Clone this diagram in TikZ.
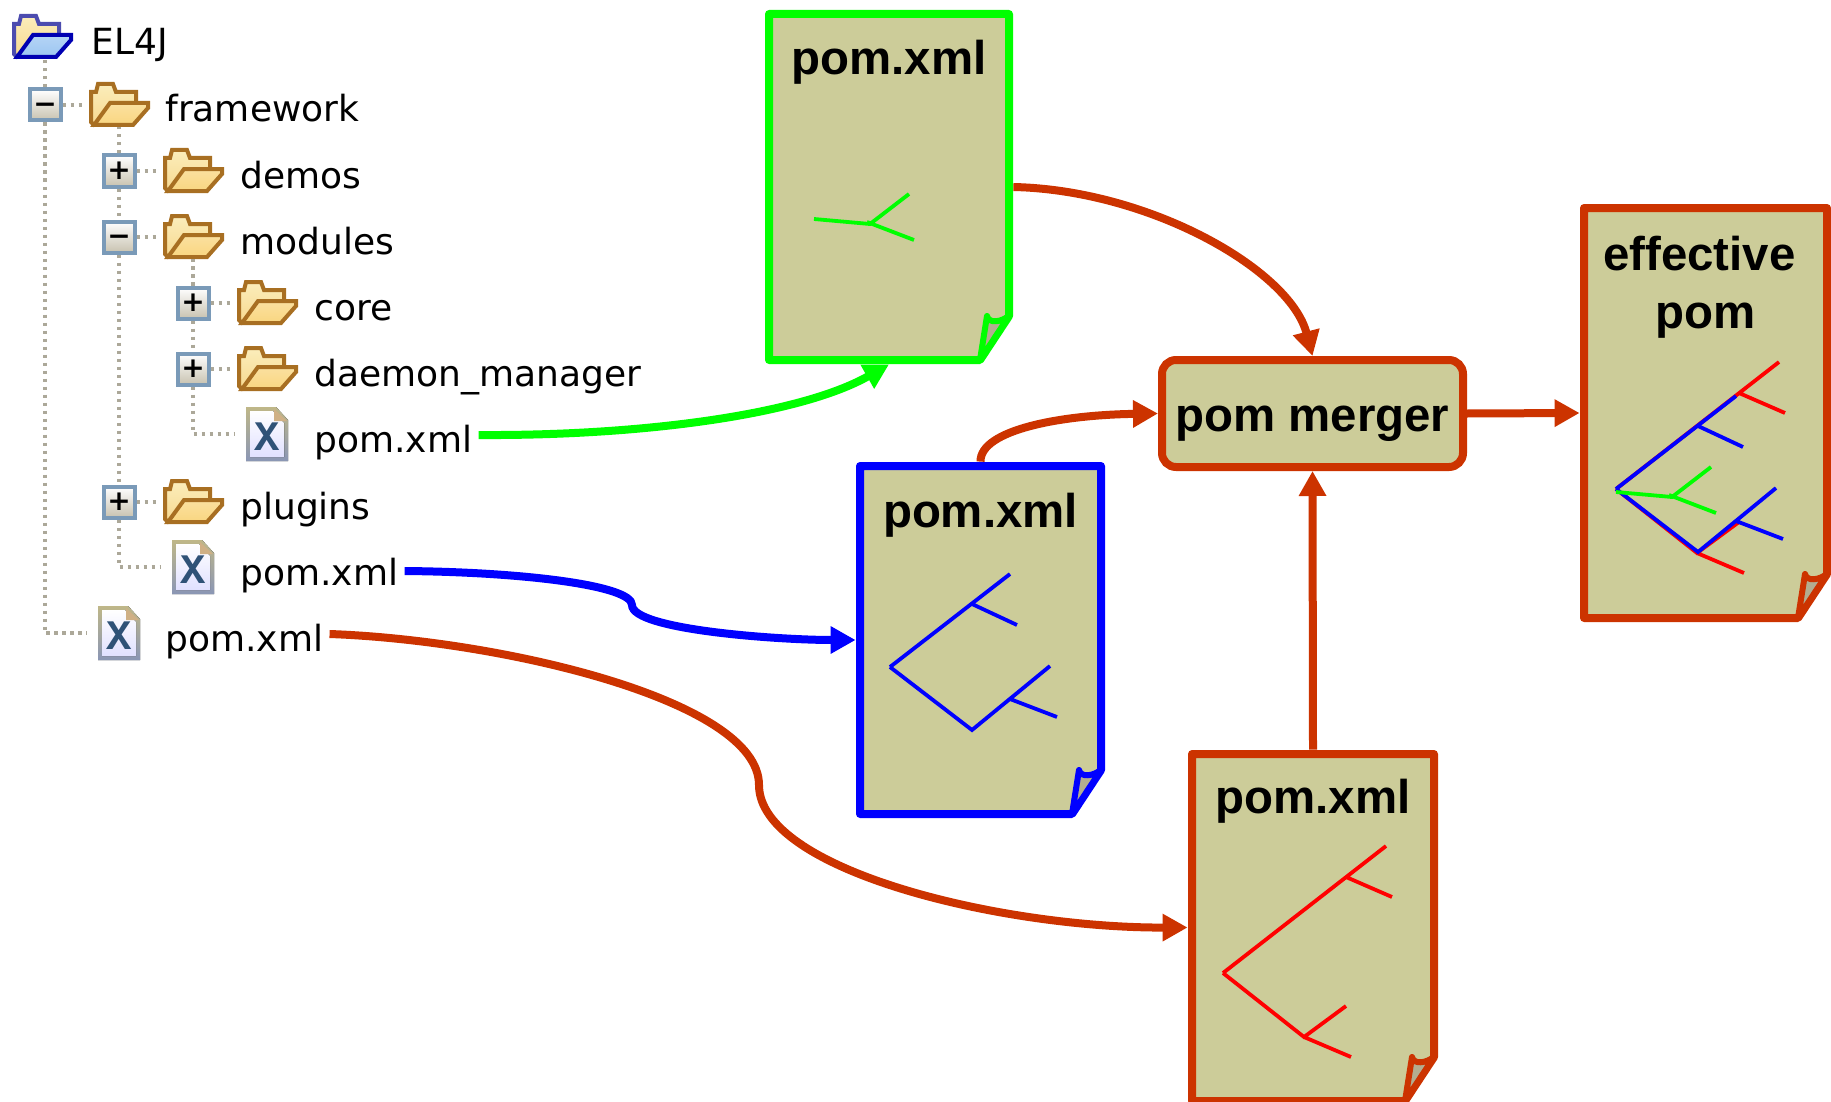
\documentclass[tikz,border=0pt]{standalone}
\usepackage{fontspec}
\setmainfont{Liberation Sans}
\newfontfamily\treefont{DejaVu Sans}
\newfontfamily\xfont{Liberation Mono}
\usetikzlibrary{arrows.meta,positioning}
\definecolor{pagefill}{HTML}{CCCC99}
\definecolor{foldfill}{HTML}{B3AD90}
\definecolor{rust}{HTML}{CC3300}
\definecolor{dotline}{HTML}{ACA899}
\definecolor{boxline}{HTML}{7A9AB8}
\definecolor{boxshade}{HTML}{C8C2B0}
\definecolor{tanline}{HTML}{A86F22}
\definecolor{xblue}{HTML}{2F5277}
\definecolor{backlight}{HTML}{FBEDBB}
\definecolor{backdark}{HTML}{F7D98F}
\definecolor{flapyellow}{HTML}{F9D680}
\definecolor{flapblue}{HTML}{9CC6F2}
\definecolor{fileline}{HTML}{BFB788}
\definecolor{filelow}{HTML}{8A96B5}

\newcommand{\docpage}[6]{
  \node (#1) at ({#2+#4/2},{#3+#5/2}) [minimum width={(#4+8)*0.5pt},minimum height={(#5+8)*0.5pt},inner sep=0pt] {};
  \begin{scope}[shift={(#2,#3)},line width=4pt,line join=round]
    \draw [#6,fill=pagefill] (0,0) -- (#4,0) -- (#4,#5-44) -- (#4-29,#5) -- (0,#5) -- cycle;
    \draw [#6,fill=foldfill,line width=3pt] (#4-29,#5) -- (#4-22,#5-44) .. controls (#4-20,#5-36) and (#4-8,#5-38) .. (#4,#5-44) -- cycle;
  \end{scope}
}
\newcommand{\greentree}[1]{
  \draw [branch,green] (#1) -- ++(56,5) -- ++(39,-30) ++(-39,30) ++(-3,-2) -- ++(47,18);
}
\newcommand{\bluetree}[1]{
  \draw [branch,blue] (#1) -- ++(120,-93) ++(-38,30) -- ++(45,21);
  \draw [branch,blue] (#1) -- ++(82,63) -- ++(78,-64) ++(-40,33) -- ++(47,18);
}
\newcommand{\redtree}[1]{
  \draw [branch,red] (#1) -- ++(163,-127) ++(-40,31) -- ++(46,20);
  \draw [branch,red] (#1) -- ++(81,64) -- ++(42,-31) ++(-42,31) -- ++(47,20);
}
\newcommand{\foldericon}[5]{
  \node (#1) at (#2) [minimum width=34pt,minimum height=21.5pt,inner sep=0pt] {};
  \begin{scope}[shift={(#2)},line width=2pt,line join=miter]
    \draw [#3,top color=backlight,bottom color=backdark] (-26,20) -- (-29,17) -- (-29,-13) -- (-24,-13) -- (-22,-21) -- (-7,-21) -- (-4,-13) -- (16,-13) -- (16,10) -- cycle;
    \draw [#4,top color=#5!75!white,bottom color=#5] (-10,-2) -- (28,-2) -- (28,3) -- (13,20) -- (-26,20) -- cycle;
  \end{scope}
}
\newcommand{\fileicon}[2]{
  \node (#1) at (#2) [minimum width=32pt,minimum height=27pt,inner sep=0pt] {};
  \begin{scope}[shift={(#2)}]
    \fill [top color=fileline,bottom color=filelow] (-21,-27) -- (9,-27) -- (21,-14) -- (21,27) -- (-21,27) -- cycle;
    \fill [top color=white,bottom color=blue!12!white] (-17,-23) -- (6,-23) -- (17,-11) -- (17,23) -- (-17,23) -- cycle;
    \fill [tanline!55!white] (7,-25) -- (7,-13) -- (20,-13) -- cycle;
    \node (#1x) at (0,3) [inner sep=0pt,xblue,font=\xfont\bfseries\fontsize{21}{21}\selectfont] {X};
  \end{scope}
}

\begin{document}
\begin{tikzpicture}[x=0.5pt,y=-0.5pt]
  \tikzstyle{conn} = [line width=4pt,-{Triangle[length=12.5pt,width=13pt]},rust]
  \tikzstyle{branch} = [line width=1.9pt]
  \tikzstyle{title} = [inner sep=0pt,text height=17pt,text depth=5pt,font=\bfseries\fontsize{23.7}{29}\selectfont]
  \tikzstyle{treebox} = [draw=boxline,line width=2pt,minimum size=15.5pt,inner sep=0pt,top color=white,bottom color=boxshade,text height=8.8pt,text depth=0pt,font=\treefont\bfseries\fontsize{14}{14}\selectfont]
  \tikzstyle{treelabel} = [anchor=west,inner ysep=0pt,inner xsep=3pt,text height=17pt,text depth=0pt,font=\treefont\fontsize{18}{18}\selectfont]
  \tikzstyle{treeline} = [dotline,line width=1.8pt,dash pattern=on 1.8pt off 2.2pt]
  \useasboundingbox (0,0) rectangle (1831,1102);

  \foldericon{rootfold}{43,37}{blue!55!black!70!white}{blue!70!black}{flapblue}
  \node (rootlab) at (85,38) [treelabel] {EL4J};

  \node (framebox) at (45,105) [treebox] {−};
  \foldericon{framefold}{120,105}{tanline}{tanline}{flapyellow}
  \node (framelab) at (159,105) [treelabel] {framework};

  \node (demobox) at (119,171) [treebox] {+};
  \foldericon{demofold}{194,171}{tanline}{tanline}{flapyellow}
  \node (demolab) at (234,171) [treelabel] {demos};

  \node (modbox) at (119,237) [treebox] {−};
  \foldericon{modfold}{194,237}{tanline}{tanline}{flapyellow}
  \node (modlab) at (234,237) [treelabel] {modules};

  \node (corebox) at (193,303) [treebox] {+};
  \foldericon{corefold}{268,303}{tanline}{tanline}{flapyellow}
  \node (corelab) at (308,303) [treelabel] {core};

  \node (daemonbox) at (193,369) [treebox] {+};
  \foldericon{daemonfold}{268,369}{tanline}{tanline}{flapyellow}
  \node (daemonlab) at (308,369) [treelabel] {daemon\_manager};

  \fileicon{filea}{267,434}
  \node (poma) at (308,435) [treelabel] {pom.xml};

  \node (plugbox) at (119,502) [treebox] {+};
  \foldericon{plugfold}{194,502}{tanline}{tanline}{flapyellow}
  \node (pluglab) at (234,502) [treelabel] {plugins};

  \fileicon{fileb}{193,567}
  \node (pomb) at (234,568) [treelabel] {pom.xml};

  \fileicon{filec}{119,633}
  \node (pomc) at (159,634) [treelabel] {pom.xml};

  \draw [treeline] (framebox.north) -- (framebox.north |- rootfold.south);
  \draw [treeline] (framebox.east) -- (framefold.west);
  \draw [treeline] (framebox.south) |- (filec.west);
  \draw [treeline] (demobox.north) -- (demobox.north |- framefold.south);
  \draw [treeline] (demobox.east) -- (demofold.west);
  \draw [treeline] (demobox.south) -- (modbox.north);
  \draw [treeline] (modbox.east) -- (modfold.west);
  \draw [treeline] (modbox.south) -- (plugbox.north);
  \draw [treeline] (plugbox.east) -- (plugfold.west);
  \draw [treeline] (plugbox.south) |- (fileb.west);
  \draw [treeline] (corebox.north) -- (corebox.north |- modfold.south);
  \draw [treeline] (corebox.east) -- (corefold.west);
  \draw [treeline] (corebox.south) -- (daemonbox.north);
  \draw [treeline] (daemonbox.east) -- (daemonfold.west);
  \draw [treeline] (daemonbox.south) |- (filea.west);

  \docpage{greenpage}{769}{14}{240}{346}{green}
  \docpage{bluepage}{860}{466}{241}{348}{blue}
  \docpage{redpage}{1192}{754}{242}{347}{rust}
  \docpage{effpage}{1584}{208}{243}{410}{rust}

  \node (greentitle) [title, below=15.5pt of greenpage.north] {pom.xml};
  \node (bluetitle) [title, below=15.5pt of bluepage.north] {pom.xml};
  \node (redtitle) [title, below=14.5pt of redpage.north] {pom.xml};
  \node (efftitle) [title, below=16pt of effpage.north, xshift=-3pt] {effective};
  \node (efftitleb) [title, below=7pt of efftitle, xshift=3pt] {pom};

  \greentree{814,219}
  \bluetree{890,667}
  \redtree{1223,973}
  \redtree{1616,489}
  \bluetree{1616,489}
  \greentree{1616,492}

  \node (merger) at (1312.5,413.5) [draw=rust,fill=pagefill,line width=4pt,rounded corners=7pt,minimum width=150.5pt,minimum height=53.5pt,inner sep=0pt,text height=23.2pt,text depth=5pt,font=\bfseries\fontsize{23.7}{29}\selectfont] {pom merger};

  \draw [conn,green] (poma.east) .. controls (640,436) and (800,415) .. (greenpage.south);
  \draw [conn,blue] ([yshift=-1.5pt]pomb.east) .. controls (520,572) and (632,585) .. (632,605) .. controls (632,630) and (780,640) .. (bluepage.west);
  \draw [conn] (pomc.east) .. controls (500,640) and (759,700) .. (759,785) .. controls (759,870) and (1000,928) .. (redpage.west);
  \draw [conn] (greenpage.east) .. controls (1150,190) and (1290,270) .. (merger.north);
  \draw [conn] (bluepage.north) .. controls (980,430) and (1060,415) .. (merger.west);
  \draw [conn] (redpage.north) -- (merger.south);
  \draw [conn] (merger.east) -- (effpage.west);
\end{tikzpicture}
\end{document}
